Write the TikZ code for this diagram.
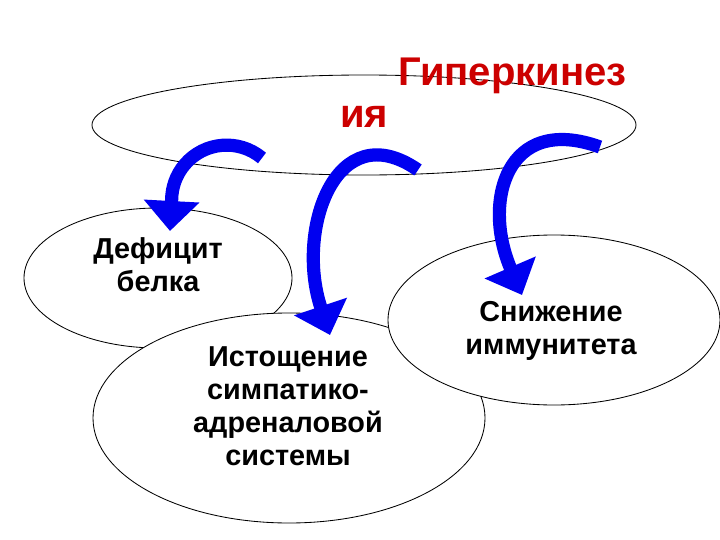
\documentclass[tikz,border=0pt]{standalone}
\usepackage{fontspec}
\setmainfont{Liberation Sans}
\usetikzlibrary{arrows.meta,shapes.geometric}
\definecolor{titlered}{RGB}{204,0,0}
\definecolor{arrowblue}{RGB}{0,0,240}

\begin{document}
\begin{tikzpicture}[x=0.25mm, y=0.25mm,
  blob/.style={draw, ellipse, line width=0.6pt, fill=white, inner sep=0pt},
  txt/.style={align=center, font=\fontsize{20.5}{23.5}\selectfont\bfseries, inner sep=0pt},
  ttl/.style={text=titlered, font=\fontsize{28.5}{30}\selectfont\bfseries, inner sep=0pt, anchor=base west},
  flow/.style={draw=arrowblue, line width=3.3mm, -{Triangle[length=7.5mm, width=13.5mm]}}]
\useasboundingbox (0,0) rectangle (720,-540);
\node[blob, minimum width=136mm, minimum height=25mm] (hyper) at (364,-125) {};
\node[blob, minimum width=67mm, minimum height=35mm] (protein) at (158,-278) {};
\node[blob, minimum width=98mm, minimum height=52.5mm] (adrenal) at (289,-418) {};
\node[blob, minimum width=83mm, minimum height=42.5mm] (immune) at (554,-320) {};
\node[ttl] (title1) at (398,-85) {Гиперкинез};
\node[ttl] (title2) at (340,-127) {ия};
\node[txt] (proteintxt) at (158,-265) {Дефицит\\белка};
\node[txt] (adrenaltxt) at (288,-406) {Истощение\\симпатико-\\адреналовой\\системы};
\node[txt] (immunetxt) at (551,-331) {Снижение\\иммунитета};
\coordinate (t1) at (262,-158);
\coordinate (h1) at (170,-231);
\coordinate (t2) at (418,-170);
\coordinate (h2) at (330,-335);
\coordinate (t3) at (600,-147);
\coordinate (h3) at (522,-295);
\draw[flow] (t1) arc[start angle=50, end angle=180, radius=55] -- (h1);
\draw[flow] (t2) .. controls (336,-113) and (295,-230) .. (h2);
\draw[flow] (t3) .. controls (506,-113) and (482,-202) .. (h3);
\end{tikzpicture}
\end{document}
